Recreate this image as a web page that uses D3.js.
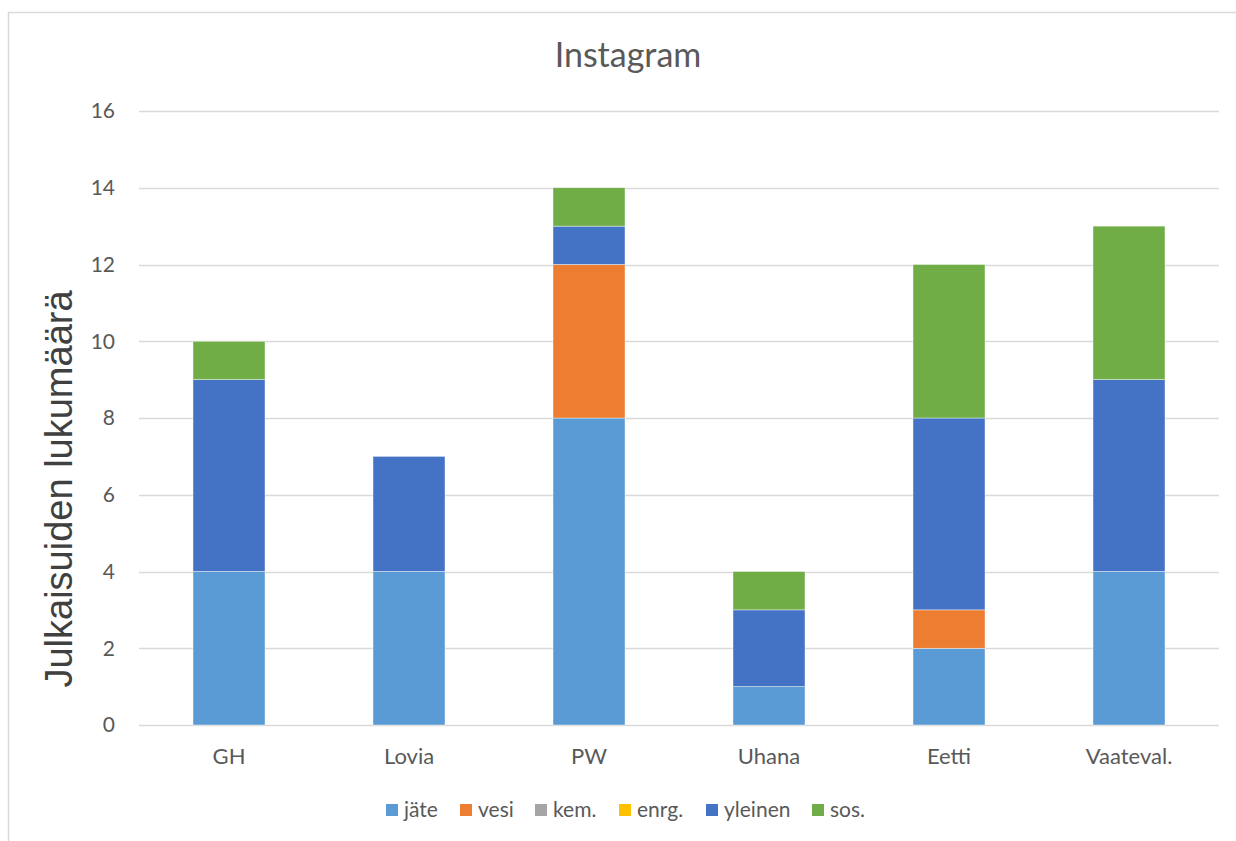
<!DOCTYPE html>
<html><head><meta charset="utf-8">
<script src="https://cdn.jsdelivr.net/npm/d3@7"></script>
<style>body{margin:0;background:#fff}svg{display:block}</style>
</head><body>
<svg id="c" width="1236" height="841"></svg>
<script>
const categories = ["GH","Lovia","PW","Uhana","Eetti","Vaateval."];
const seriesNames = ["jäte","vesi","kem.","enrg.","yleinen","sos."];
const jate    = [4,4,8,1,2,4];
const vesi    = [0,0,4,0,1,0];
const kem     = [0,0,0,0,0,0];
const enrg    = [0,0,0,0,0,0];
const yleinen = [5,3,1,2,5,5];
const sos     = [1,0,1,1,4,4];
const yTicks  = [0,2,4,6,8,10,12,14,16];
const colors  = ["#5B9BD5","#ED7D31","#A5A5A5","#FFC000","#4472C4","#70AD47"];
const chartTitle = "Instagram";
const yTitle = "Julkaisuiden lukumäärä";

const seriesVals = [jate,vesi,kem,enrg,yleinen,sos];
const rows = categories.map((c,i)=>{const o={cat:c};seriesNames.forEach((s,j)=>o[s]=seriesVals[j][i]);return o;});
const stacked = d3.stack().keys(seriesNames)(rows);

const svg = d3.select("#c");
const font = "Lato, 'Open Sans', sans-serif";
const pLeft=139, pRight=1219, pTop=111, pBottom=725;

svg.append("rect").attr("x",8.5).attr("y",12.5).attr("width",1240).attr("height",840)
  .attr("fill","none").attr("stroke","#d9d9d9").attr("stroke-width",1.5);

const x = d3.scaleBand().domain(categories).range([pLeft,pRight]).padding(0);
const y = d3.scaleLinear().domain([0,16]).range([pBottom,pTop]);

const g = svg.append("g");
g.selectAll("line.grid").data(yTicks).join("line").attr("class","grid")
  .attr("x1",pLeft).attr("x2",pRight).attr("y1",d=>Math.round(y(d))+0.5).attr("y2",d=>Math.round(y(d))+0.5)
  .attr("stroke","#d9d9d9").attr("stroke-width",1.5);

const yAxis = d3.axisLeft(y).tickValues(yTicks).tickSize(0).tickPadding(0);
const ya = svg.append("g").attr("transform",`translate(${pLeft-24},0)`).call(yAxis);
ya.select(".domain").remove();
ya.selectAll("text").attr("font-family",font).attr("font-size",21).attr("fill","#595959").attr("dy","0.33em");

const bw = x.bandwidth()*0.4;
svg.append("g").selectAll("g").data(stacked).join("g").attr("fill",(d,i)=>colors[i])
  .selectAll("rect").data(d=>d).join("rect")
  .attr("x",d=>x(d.data.cat)+(x.bandwidth()-bw)/2)
  .attr("width",bw)
  .attr("y",d=>y(d[1]))
  .attr("height",d=>y(d[0])-y(d[1]))
  .attr("stroke","#fff").attr("stroke-width",0.6).attr("stroke-opacity",0.7);

const xAxis = d3.axisBottom(x).tickSize(0).tickPadding(0);
const xa = svg.append("g").attr("transform",`translate(0,${pBottom})`).call(xAxis);
xa.select(".domain").remove();
xa.selectAll("text").attr("font-family",font).attr("font-size",22).attr("fill","#595959").attr("dy",0).attr("y",39);

svg.append("text").attr("x",628).attr("y",67).attr("text-anchor","middle")
  .attr("font-family",font).attr("font-size",34).attr("fill","#595959").text(chartTitle);

svg.append("text").attr("transform",`translate(72,489) rotate(-90)`).attr("text-anchor","middle")
  .attr("font-family","'Liberation Sans', Arial, sans-serif").attr("font-size",38).attr("fill","#404040").text(yTitle);

const legX = [386,460,535,619,706,812];
const leg = svg.append("g").selectAll("g").data(seriesNames).join("g")
  .attr("transform",(d,i)=>`translate(${legX[i]},0)`);
leg.append("rect").attr("x",0).attr("y",804).attr("width",12).attr("height",12).attr("fill",(d,i)=>colors[i]);
leg.append("text").attr("x",18).attr("y",817).attr("font-family",font).attr("font-size",21).attr("fill","#595959").text(d=>d);
</script>
</body></html>
